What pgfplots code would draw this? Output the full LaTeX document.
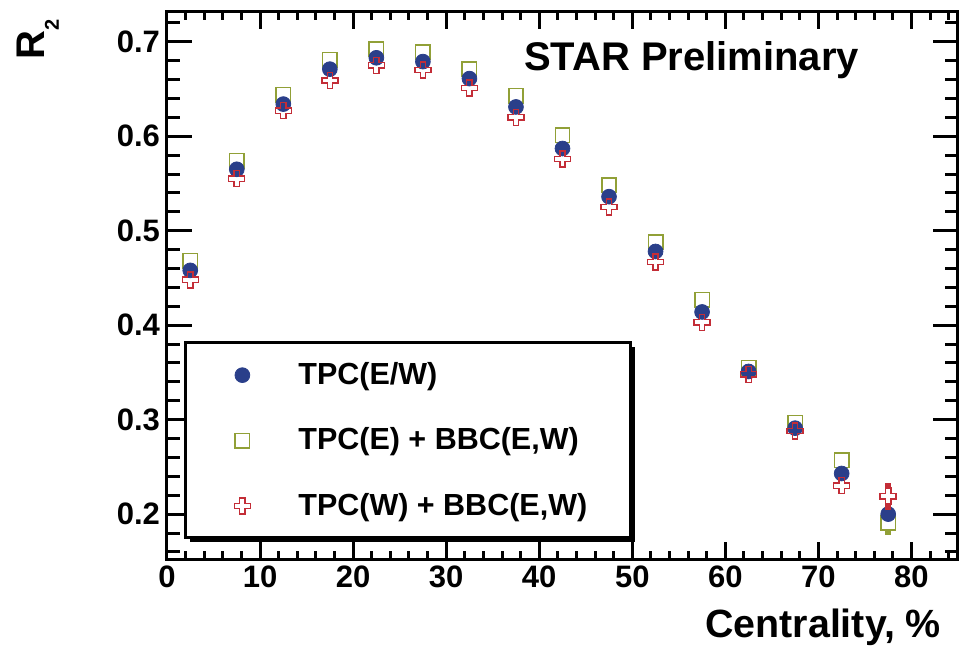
\documentclass[border=0pt]{standalone}
\usepackage{fontspec}
\setmainfont{Liberation Sans}
\usepackage{pgfplots}
\pgfplotsset{compat=1.18}
\usetikzlibrary{shadows}
\definecolor{cblue}{RGB}{42,63,138}
\definecolor{colive}{RGB}{145,160,55}
\definecolor{cred}{RGB}{195,45,55}

\pgfdeclareplotmark{ocross}{%
  \pgfpathmoveto{\pgfqpoint{-0.33\pgfplotmarksize}{\pgfplotmarksize}}%
  \pgfpathlineto{\pgfqpoint{0.33\pgfplotmarksize}{\pgfplotmarksize}}%
  \pgfpathlineto{\pgfqpoint{0.33\pgfplotmarksize}{0.33\pgfplotmarksize}}%
  \pgfpathlineto{\pgfqpoint{\pgfplotmarksize}{0.33\pgfplotmarksize}}%
  \pgfpathlineto{\pgfqpoint{\pgfplotmarksize}{-0.33\pgfplotmarksize}}%
  \pgfpathlineto{\pgfqpoint{0.33\pgfplotmarksize}{-0.33\pgfplotmarksize}}%
  \pgfpathlineto{\pgfqpoint{0.33\pgfplotmarksize}{-\pgfplotmarksize}}%
  \pgfpathlineto{\pgfqpoint{-0.33\pgfplotmarksize}{-\pgfplotmarksize}}%
  \pgfpathlineto{\pgfqpoint{-0.33\pgfplotmarksize}{-0.33\pgfplotmarksize}}%
  \pgfpathlineto{\pgfqpoint{-\pgfplotmarksize}{-0.33\pgfplotmarksize}}%
  \pgfpathlineto{\pgfqpoint{-\pgfplotmarksize}{0.33\pgfplotmarksize}}%
  \pgfpathlineto{\pgfqpoint{-0.33\pgfplotmarksize}{0.33\pgfplotmarksize}}%
  \pgfpathclose
  \pgfusepathqstroke
}

\pgfplotsset{leg/.style={legend image code/.code={%
  \path[draw=none, fill=none] (0pt,-16.375pt) rectangle (56pt,16.375pt);
  \draw[##1] plot coordinates {(28pt,0pt)};}}}

\pgfplotstableread{
x     c      s      r
2.5   0.458  0.468  0.448
7.5   0.565  0.574  0.555
12.5  0.634  0.644  0.627
17.5  0.671  0.681  0.659
22.5  0.683  0.692  0.675
27.5  0.679  0.689  0.670
32.5  0.661  0.671  0.651
37.5  0.631  0.643  0.620
42.5  0.587  0.601  0.576
47.5  0.536  0.548  0.525
52.5  0.478  0.488  0.467
57.5  0.414  0.427  0.403
62.5  0.351  0.355  0.348
67.5  0.291  0.297  0.288
72.5  0.243  0.257  0.230
77.5  0.200  0.191  0.219
}\datatable

\begin{document}
\begin{tikzpicture}
\useasboundingbox (-83.5pt,-45pt) rectangle (396.5pt,279.5pt);
\begin{axis}[
  at={(0,0)}, anchor=south west,
  scale only axis, width=395.5pt, height=273.5pt,
  xmin=0, xmax=85, ymin=0.1525, ymax=0.7315,
  xtick={0,10,20,30,40,50,60,70,80},
  ytick={0.2,0.3,0.4,0.5,0.6,0.7},
  minor xtick={2,4,6,8,12,14,16,18,22,24,26,28,32,34,36,38,42,44,46,48,52,54,56,58,62,64,66,68,72,74,76,78,82,84},
  minor ytick={0.16,0.18,0.22,0.24,0.26,0.28,0.32,0.34,0.36,0.38,0.42,0.44,0.46,0.48,0.52,0.54,0.56,0.58,0.62,0.64,0.66,0.68,0.72},
  tick align=inside,
  axis line style={line width=1.5pt},
  tick style={line width=1.5pt, black},
  major tick length=12.5pt, minor tick length=6.5pt,
  every major x tick/.append style={/pgfplots/major tick length=8.5pt},
  every minor x tick/.append style={/pgfplots/minor tick length=4pt},
  /pgf/number format/assume math mode=true,
  tick label style={font=\fontsize{15.5}{15.5}\selectfont\bfseries},
  yticklabel style={/pgf/number format/.cd, fixed, fixed zerofill, precision=1},
  xlabel={Centrality, \%},
  xlabel style={at={(rel axis cs:0.9874,-0.14333)}, anchor=base east, font=\fontsize{19.7}{19.7}\selectfont\bfseries},
  ylabel={R\raisebox{-7pt}{\fontsize{10}{10}\selectfont 2}},
  ylabel style={at={(rel axis cs:-0.15424,1)}, anchor=base east, font=\fontsize{20}{20}\selectfont\bfseries},
  legend cell align=left,
  legend style={at={(rel axis cs:0.024,0.3967)}, anchor=north west,
    draw=none, fill=none,
    inner xsep=0pt, inner ysep=0pt, row sep=0pt,
    nodes={inner sep=0pt},
    font=\fontsize{15.25}{15.25}\selectfont\bfseries,
    /tikz/every even column/.append style={column sep=0pt}},
]
% legend frame with shadow
\draw[line width=1.5pt, fill=white, drop shadow={shadow xshift=2.25pt, shadow yshift=-2.25pt, opacity=1, fill=black}]
  (rel axis cs:0.024,0.3967) rectangle (rel axis cs:0.5866,0.0402);
% square series and its error bar
\addplot[forget plot, colive, line width=0.8pt, mark=square*, mark size=1.1pt, mark indices={2}] coordinates {(77.5,0.1835) (77.5,0.1815)};
\addplot[forget plot, only marks, mark=square, mark size=3.6pt, colive, mark options={line width=0.75pt}] table[x=x,y=s] {\datatable};
% circle series
\addplot[forget plot, only marks, mark=*, mark size=3.7pt, cblue, mark options={fill=cblue, draw=cblue}] table[x=x,y=c] {\datatable};
% cross error bar and series
\addplot[forget plot, cred, line width=0.8pt, mark=square*, mark size=1.1pt, mark indices={2}] coordinates {(77.5,0.2275) (77.5,0.2300)};
\addplot[forget plot, cred, line width=0.8pt, mark=square*, mark size=1.1pt, mark indices={2}] coordinates {(77.5,0.2105) (77.5,0.2080)};
\addplot[forget plot, only marks, mark=ocross, mark size=4pt, cred, mark options={line width=0.7pt}] table[x=x,y=r] {\datatable};

\addlegendimage{only marks, mark=*, mark size=3.7pt, cblue, mark options={fill=cblue, draw=cblue, line width=0.4pt}, leg}
\addlegendentry{\rule[-10.875pt]{0pt}{32.75pt}\raisebox{5.75pt}{\makebox[166.5pt][l]{TPC(E/W)}}}
\addlegendimage{only marks, mark=square, mark size=3.6pt, colive, mark options={line width=0.75pt}, leg}
\addlegendentry{\rule[-10.875pt]{0pt}{32.75pt}\raisebox{5.75pt}{\makebox[166.5pt][l]{TPC(E) + BBC(E,W)}}}
\addlegendimage{only marks, mark=ocross, mark size=4pt, cred, mark options={line width=0.7pt}, leg}
\addlegendentry{\rule[-10.875pt]{0pt}{32.75pt}\raisebox{5.75pt}{\makebox[166.5pt][l]{TPC(W) + BBC(E,W)}}}

\node[anchor=base west, font=\fontsize{20}{20}\selectfont\bfseries] at (rel axis cs:0.4425,0.8928) {STAR Preliminary};
\end{axis}
\end{tikzpicture}
\end{document}
